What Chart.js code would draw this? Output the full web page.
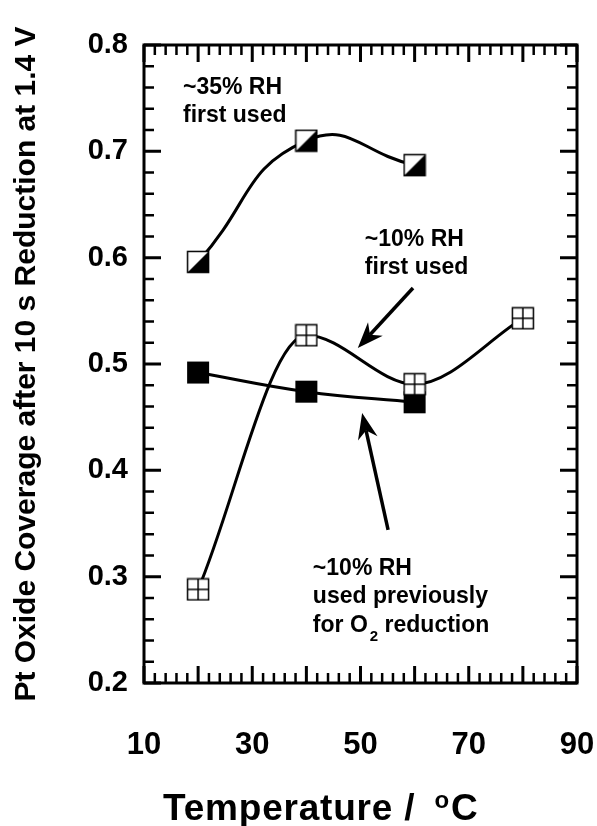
<!DOCTYPE html>
<html><head><meta charset="utf-8">
<script src="https://cdn.jsdelivr.net/npm/chart.js@4.4.1/dist/chart.umd.min.js"></script>
<style>html,body{margin:0;padding:0;background:#fff;}</style>
</head><body>
<canvas id="c" width="597" height="826"></canvas>
<script>
// ---- data ----
const temps35 = [20, 40, 60];
const cover35 = [0.596, 0.710, 0.687];
const temps10First = [20, 40, 60, 80];
const cover10First = [0.288, 0.527, 0.481, 0.543];
const temps10Prev = [20, 40, 60];
const cover10Prev = [0.492, 0.474, 0.464];
const xTickLabels = ['10', '30', '50', '70', '90'];
const yTickLabels = ['0.2', '0.3', '0.4', '0.5', '0.6', '0.7', '0.8'];
const yTitle = 'Pt Oxide Coverage after 10 s Reduction at 1.4 V';
const xTitleMain = 'Temperature / ';
const xTitleSup = 'o';
const xTitleEnd = 'C';

const FONT = '"Liberation Sans", Arial, Helvetica, sans-serif';

// ---- annotations (data coords) ----
const notes = [
  {x: 17.2, y: 0.754, lines: [[{t: '~35% RH'}], [{t: 'first used'}]]},
  {x: 50.8, y: 0.611, lines: [[{t: '~10% RH'}], [{t: 'first used'}]]},
  {x: 41.2, y: 0.3016, lines: [[{t: '~10% RH'}], [{t: 'used previously'}], [{t: 'for O'}, {t: '2', sub: true}, {t: ' reduction'}]]}
];
const arrows = [
  {from: [59.7, 0.5715], to: [49.5, 0.515]},
  {from: [55.1, 0.344], to: [50.3, 0.454]}
];

// ---- marker images ----
function makeMarker(kind) {
  const s = 24, c = document.createElement('canvas');
  c.width = s; c.height = s;
  const g = c.getContext('2d');
  const a = 1.5, b = 22.5;
  if (kind === 'filled') {
    g.fillStyle = '#000'; g.fillRect(1, 1, 22, 22);
    return c;
  }
  g.fillStyle = '#fff'; g.fillRect(a, a, b - a, b - a);
  if (kind === 'half') {
    g.fillStyle = '#000';
    g.beginPath(); g.moveTo(a, b); g.lineTo(b, a); g.lineTo(b, b); g.closePath(); g.fill();
  }
  g.strokeStyle = '#000'; g.lineWidth = 1.5;
  g.strokeRect(a, a, b - a, b - a);
  if (kind === 'grid') {
    g.beginPath();
    g.moveTo(12, a); g.lineTo(12, b);
    g.moveTo(a, 12); g.lineTo(b, 12);
    g.stroke();
  }
  return c;
}
const mHalf = makeMarker('half'), mGrid = makeMarker('grid'), mFill = makeMarker('filled');

function pts(xs, ys) { return xs.map((x, i) => ({x: x, y: ys[i]})); }

// ---- custom drawing plugin ----
const decor = {
  id: 'decor',
  afterDraw(chart) {
    const ctx = chart.ctx, xs = chart.scales.x, ys = chart.scales.y;
    const L = xs.getPixelForValue(10), R = xs.getPixelForValue(90);
    const T = ys.getPixelForValue(0.8), B = ys.getPixelForValue(0.2);
    ctx.save();
    ctx.strokeStyle = '#000';
    // ticks
    for (let v = 10; v <= 90.001; v += 2) {
      const major = Math.abs((v - 10) % 10) < 0.01;
      const len = major ? 17 : 10;
      const px = xs.getPixelForValue(v);
      ctx.lineWidth = major ? 3 : 2.5;
      ctx.beginPath();
      ctx.moveTo(px, B); ctx.lineTo(px, B - len);
      ctx.moveTo(px, T); ctx.lineTo(px, T + len);
      ctx.stroke();
    }
    for (let k = 0; k <= 30; k++) {
      const v = 0.2 + k * 0.02;
      const major = k % 5 === 0;
      const len = major ? 17 : 10;
      const py = ys.getPixelForValue(v);
      ctx.lineWidth = major ? 3 : 2.5;
      ctx.beginPath();
      ctx.moveTo(L, py); ctx.lineTo(L + len, py);
      ctx.moveTo(R, py); ctx.lineTo(R - len, py);
      ctx.stroke();
    }
    // frame
    ctx.lineWidth = 3;
    ctx.strokeRect(L, T, R - L, B - T);

    // annotations
    ctx.fillStyle = '#000';
    ctx.textBaseline = 'alphabetic';
    ctx.textAlign = 'left';
    notes.forEach(n => {
      let x0 = xs.getPixelForValue(n.x), y0 = ys.getPixelForValue(n.y);
      n.lines.forEach((line, li) => {
        let x = x0, y = y0 + li * 28.5;
        line.forEach(seg => {
          if (seg.sub) {
            ctx.font = 'bold 15px ' + FONT;
            ctx.fillText(seg.t, x + 2, y + 9);
            x += ctx.measureText(seg.t).width + 2;
          } else {
            ctx.font = 'bold 23px ' + FONT;
            ctx.fillText(seg.t, x, y);
            x += ctx.measureText(seg.t).width;
          }
        });
      });
    });

    // arrows
    arrows.forEach(a => {
      const fx = xs.getPixelForValue(a.from[0]), fy = ys.getPixelForValue(a.from[1]);
      const tx = xs.getPixelForValue(a.to[0]), ty = ys.getPixelForValue(a.to[1]);
      const dx = tx - fx, dy = ty - fy, d = Math.hypot(dx, dy);
      const ux = dx / d, uy = dy / d, nx = -uy, ny = ux;
      const HL = 26, HW = 10, NT = 8;
      ctx.lineWidth = 3.5;
      ctx.beginPath();
      ctx.moveTo(fx, fy);
      ctx.lineTo(tx - ux * (HL - NT), ty - uy * (HL - NT));
      ctx.stroke();
      ctx.beginPath();
      ctx.moveTo(tx, ty);
      ctx.lineTo(tx - ux * HL + nx * HW, ty - uy * HL + ny * HW);
      ctx.lineTo(tx - ux * (HL - NT), ty - uy * (HL - NT));
      ctx.lineTo(tx - ux * HL - nx * HW, ty - uy * HL - ny * HW);
      ctx.closePath();
      ctx.fill();
    });

    // x title with superscript
    ctx.font = 'bold 37px ' + FONT;
    ctx.letterSpacing = '0.8px';
    let x = 163, y = 820;
    ctx.fillText(xTitleMain, x, y);
    x += ctx.measureText(xTitleMain).width + 8;
    ctx.letterSpacing = '0px';
    ctx.font = 'bold 24px ' + FONT;
    ctx.fillText(xTitleSup, x, y - 12);
    x += ctx.measureText(xTitleSup).width + 2;
    ctx.font = 'bold 37px ' + FONT;
    ctx.fillText(xTitleEnd, x, y);
    ctx.restore();
  }
};

new Chart(document.getElementById('c'), {
  type: 'line',
  data: {
    datasets: [
      {
        label: '~10% RH first used',
        data: pts(temps10First, cover10First),
        borderColor: '#000', borderWidth: 3,
        cubicInterpolationMode: 'monotone',
        pointStyle: mGrid, pointRadius: 11
      },
      {
        label: '~10% RH used previously for O2 reduction',
        data: pts(temps10Prev, cover10Prev),
        borderColor: '#000', borderWidth: 3,
        tension: 0.4,
        pointStyle: mFill, pointRadius: 11
      },
      {
        label: '~35% RH first used',
        data: pts(temps35, cover35),
        borderColor: '#000', borderWidth: 3,
        tension: 0.5,
        pointStyle: mHalf, pointRadius: 11
      }
    ]
  },
  options: {
    responsive: false,
    animation: false,
    devicePixelRatio: 1,
    layout: {padding: {left: 0, right: 20, top: 45, bottom: 0}},
    plugins: {legend: {display: false}, tooltip: {enabled: false}},
    elements: {line: {fill: false}},
    scales: {
      x: {
        type: 'linear', min: 10, max: 90,
        grid: {display: false}, border: {display: false},
        afterBuildTicks: s => { s.ticks = xTickLabels.map(v => ({value: Number(v)})); },
        ticks: {
          font: {family: FONT, size: 31, weight: 'bold'}, color: '#000',
          padding: 36, maxRotation: 0, autoSkip: false,
          callback: (v, i) => xTickLabels[i]
        },
        afterFit: s => { s.height = 143; s.paddingLeft = 0; s.paddingRight = 0; }
      },
      y: {
        type: 'linear', min: 0.2, max: 0.8,
        grid: {display: false}, border: {display: false},
        afterBuildTicks: s => { s.ticks = yTickLabels.map(v => ({value: Number(v)})); },
        ticks: {
          font: {family: FONT, size: 29, weight: 'bold'}, color: '#000',
          padding: 8, autoSkip: false,
          callback: (v, i) => yTickLabels[i]
        },
        title: {
          display: true, text: yTitle, color: '#000',
          font: {family: FONT, size: 30, weight: 'bold'},
          padding: {top: 9, bottom: 0}
        },
        afterFit: s => { s.width = 144; s.paddingTop = 0; s.paddingBottom = 0; }
      }
    }
  },
  plugins: [decor]
});
</script>
</body></html>
